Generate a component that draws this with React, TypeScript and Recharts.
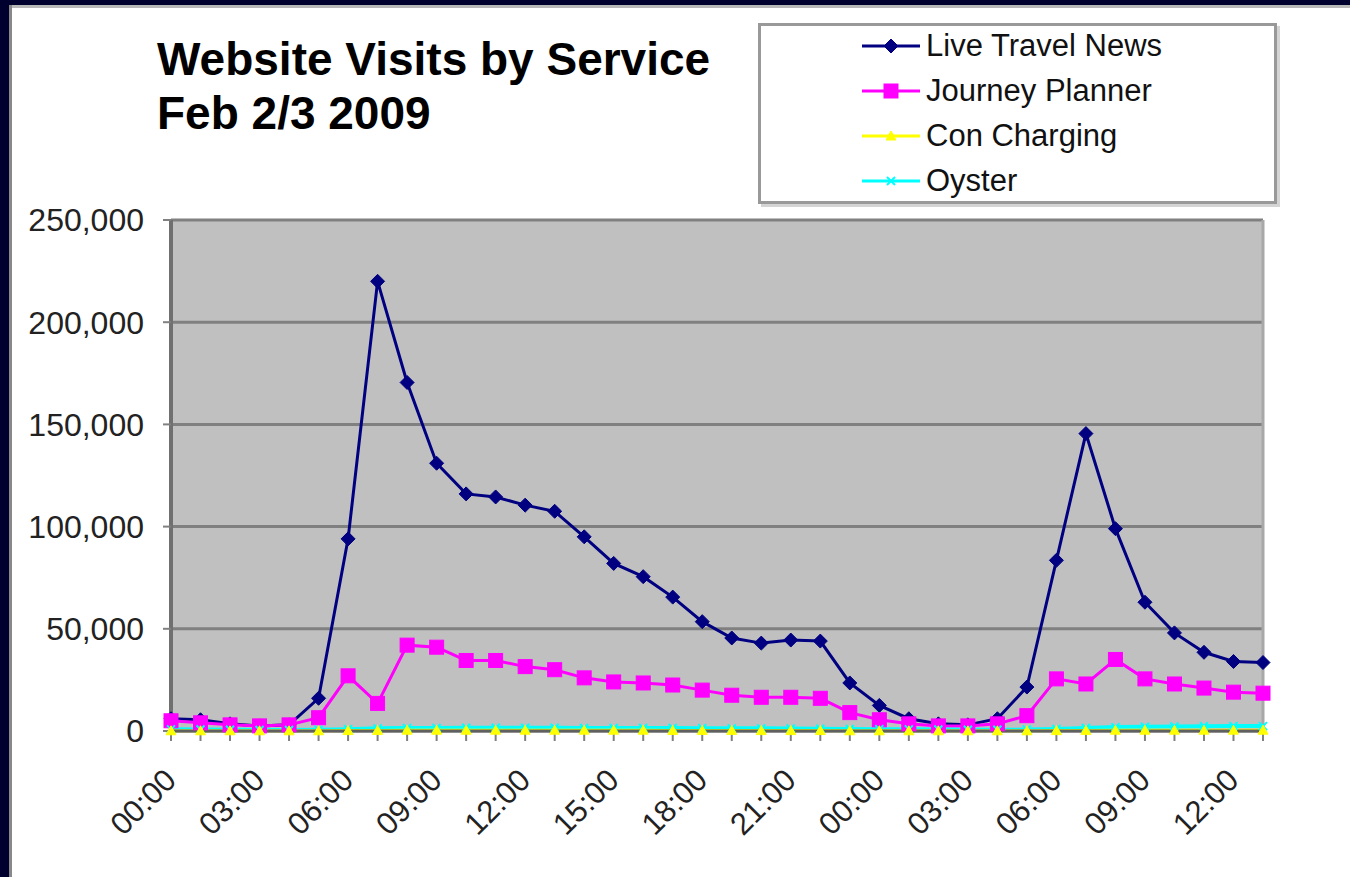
import { CartesianGrid, Legend, Line, LineChart, ReferenceLine, XAxis, YAxis } from "recharts";

// hourly slots, Feb 2 00:00 through Feb 3 13:00
const hours = [
  "00:00", "01:00", "02:00", "03:00", "04:00", "05:00", "06:00", "07:00", "08:00", "09:00",
  "10:00", "11:00", "12:00", "13:00", "14:00", "15:00", "16:00", "17:00", "18:00", "19:00",
  "20:00", "21:00", "22:00", "23:00",
  "00:00", "01:00", "02:00", "03:00", "04:00", "05:00", "06:00", "07:00", "08:00", "09:00",
  "10:00", "11:00", "12:00", "13:00",
];

const liveTravelNews = [
  6000, 5500, 3500, 2500, 3000, 16000, 94000, 220000, 170500, 131000,
  116000, 114500, 110500, 107500, 95000, 82000, 75500, 65500, 53500, 45500,
  43000, 44500, 44000, 23500,
  12500, 6000, 3500, 3000, 6000, 21500, 83500, 145500, 99000, 63000,
  48000, 38500, 34000, 33500,
];

const journeyPlanner = [
  5000, 4000, 3000, 2500, 3000, 6500, 27000, 13500, 42000, 41000,
  34500, 34500, 31500, 30000, 26000, 24000, 23500, 22500, 20000, 17500,
  16500, 16500, 16000, 9000,
  5500, 3500, 2500, 2500, 3500, 7500, 25500, 23000, 35000, 25500,
  23000, 21000, 19000, 18500,
];

const conCharging = [
  100, 100, 100, 100, 100, 100, 200, 300, 400, 400,
  400, 400, 400, 400, 400, 400, 400, 300, 300, 300,
  200, 200, 200, 100,
  100, 100, 100, 100, 100, 100, 200, 300, 400, 400,
  400, 400, 400, 400,
];

const oyster = [
  800, 700, 600, 500, 500, 600, 900, 1300, 1500, 1500,
  1600, 1600, 1600, 1600, 1500, 1500, 1500, 1500, 1400, 1300,
  1300, 1200, 1100, 1000,
  900, 800, 700, 600, 600, 700, 1000, 1500, 1900, 2100,
  2200, 2300, 2400, 2400,
];

const yTicks = [0, 50000, 100000, 150000, 200000, 250000];

const data = hours.map((h, i) => ({
  slot: `${i < 24 ? "d1" : "d2"} ${h}`,
  ltn: liveTravelNews[i],
  jp: journeyPlanner[i],
  cc: conCharging[i],
  oy: oyster[i],
}));

const FONT = '"Liberation Sans", Arial, sans-serif';
const NAVY = "#000080";
const MAGENTA = "#ff00ff";
const YELLOW = "#ffff00";
const CYAN = "#00ffff";

const diamond = (cx: number, cy: number, key?: string | number) => (
  <path key={key} d={`M${cx},${cy - 7}L${cx + 7},${cy}L${cx},${cy + 7}L${cx - 7},${cy}Z`} fill={NAVY} stroke={NAVY} />
);
const square = (cx: number, cy: number, key?: string | number) => (
  <rect key={key} x={cx - 7} y={cy - 7} width={14} height={14} fill={MAGENTA} stroke={MAGENTA} />
);
const triangle = (cx: number, cy: number, key?: string | number) => (
  <path key={key} d={`M${cx},${cy - 5}L${cx + 5},${cy + 4}L${cx - 5},${cy + 4}Z`} fill={YELLOW} stroke={YELLOW} />
);
const cross = (cx: number, cy: number, key?: string | number) => (
  <path key={key} d={`M${cx - 4},${cy - 4}L${cx + 4},${cy + 4}M${cx + 4},${cy - 4}L${cx - 4},${cy + 4}`} stroke={CYAN} strokeWidth={2} />
);

const series = [
  { key: "ltn", label: "Live Travel News", color: NAVY, marker: diamond },
  { key: "jp", label: "Journey Planner", color: MAGENTA, marker: square },
  { key: "cc", label: "Con Charging", color: YELLOW, marker: triangle },
  { key: "oy", label: "Oyster", color: CYAN, marker: cross },
];

const dotFor = (marker: typeof diamond) => (p: any) => marker(p.cx, p.cy, `m-${p.index}`);

function TimeTick(p: any) {
  if (p.index % 3 !== 0) return <g />;
  const ax = p.x + 7;
  const ay = p.y + 39;
  return (
    <text x={ax} y={ay} transform={`rotate(-45 ${ax} ${ay})`} textAnchor="end" fontSize={31} fontFamily={FONT} fill="#222">
      {String(p.payload.value).slice(3)}
    </text>
  );
}

function LegendBox() {
  return (
    <div
      style={{
        position: "relative",
        width: 519,
        height: 181,
        boxSizing: "border-box",
        border: "3px solid #999",
        boxShadow: "3px 3px 0 #d4d4d4",
        background: "#fff",
        fontFamily: FONT,
      }}
    >
      {series.map((s, i) => (
        <div key={s.key} style={{ position: "absolute", left: 101, top: i * 45, height: 40, display: "flex", alignItems: "center" }}>
          <svg width={60} height={20} style={{ display: "block" }}>
            <line x1={0} y1={10} x2={58} y2={10} stroke={s.color} strokeWidth={3} />
            {s.marker(29, 10)}
          </svg>
          <span style={{ fontSize: 31, color: "#111", marginLeft: 4, lineHeight: "40px" }}>{s.label}</span>
        </div>
      ))}
    </div>
  );
}

export default function App() {
  return (
    <div style={{ position: "absolute", left: 0, top: 0, width: 1350, height: 877, background: "#fff", overflow: "hidden" }}>
      <div style={{ position: "absolute", left: 0, top: 0, width: 1350, height: 5, background: "#00002e" }} />
      <div style={{ position: "absolute", left: 0, top: 0, width: 9, height: 877, background: "#00002e" }} />
      <div style={{ position: "absolute", left: 9, top: 5, width: 1341, height: 3, background: "#b8b8b8" }} />
      <div style={{ position: "absolute", left: 9, top: 5, width: 3, height: 872, background: "#888" }} />
      <div
        style={{
          position: "absolute",
          left: 157,
          top: 32,
          fontFamily: FONT,
          fontWeight: "bold",
          fontSize: 46,
          lineHeight: "54px",
          color: "#000",
        }}
      >
        Website Visits by Service
        <br />
        Feb 2/3 2009
      </div>
      <div style={{ position: "absolute", left: 0, top: 0 }}>
        <LineChart width={1350} height={877} data={data} margin={{ top: 220, right: 87, bottom: 0, left: 0 }}>
          <CartesianGrid vertical={false} stroke="#808080" strokeWidth={3} fill="#c0c0c0" fillOpacity={1} />
          <XAxis
            dataKey="slot"
            interval={0}
            height={146}
            tick={TimeTick}
            tickSize={10}
            tickLine={{ stroke: "#808080", strokeWidth: 2 }}
            axisLine={{ stroke: "#606060", strokeWidth: 3 }}
          />
          <YAxis
            width={171}
            domain={[0, 250000]}
            ticks={yTicks}
            tickFormatter={(v: number) => v.toLocaleString("en-US")}
            tick={{ fontSize: 32, fontFamily: FONT, fill: "#222" }}
            tickSize={8}
            tickMargin={19}
            tickLine={{ stroke: "#808080", strokeWidth: 2 }}
            axisLine={{ stroke: "#707070", strokeWidth: 4 }}
          />
          <ReferenceLine x={data[data.length - 1].slot} stroke="#a8a8a8" strokeWidth={3} />
          <Line dataKey="ltn" name="Live Travel News" stroke={NAVY} strokeWidth={3} dot={dotFor(diamond)} isAnimationActive={false} />
          <Line dataKey="jp" name="Journey Planner" stroke={MAGENTA} strokeWidth={3} dot={dotFor(square)} isAnimationActive={false} />
          <Line dataKey="oy" name="Oyster" stroke={CYAN} strokeWidth={4} dot={dotFor(cross)} isAnimationActive={false} />
          <Line dataKey="cc" name="Con Charging" stroke={YELLOW} strokeWidth={3} dot={dotFor(triangle)} isAnimationActive={false} />
          <Legend
            layout="vertical"
            align="center"
            verticalAlign="middle"
            content={() => <LegendBox />}
            wrapperStyle={{ left: 758, top: 23, width: 519, height: 181 }}
          />
        </LineChart>
      </div>
    </div>
  );
}
